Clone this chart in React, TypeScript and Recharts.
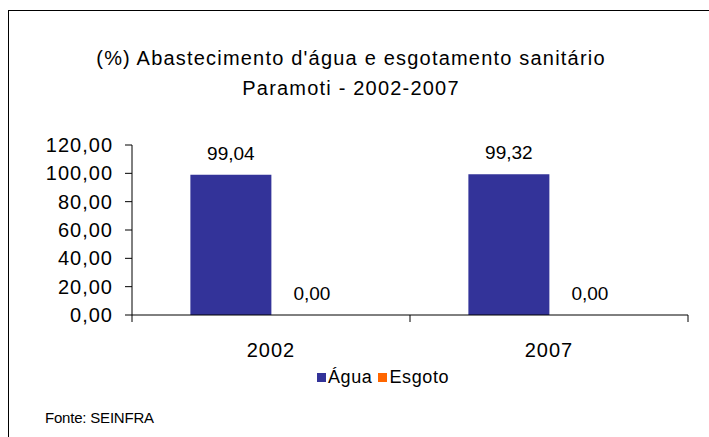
import React from 'react';
import { BarChart, Bar, XAxis, YAxis, LabelList } from 'recharts';

const categories = ['2002', '2007'];
const agua = [99.04, 99.32];
const esgoto = [0.0, 0.0];
const yTicks = [0, 20, 40, 60, 80, 100, 120];
const seriesNames = ['Água', 'Esgoto'];
const seriesColors = ['#333399', '#FF6600'];

const data = categories.map((ano, i) => ({ ano, agua: agua[i], esgoto: esgoto[i] }));

const W = 709;
const H = 437;
const xAxisHeight = 30;
const margin = { top: 145, right: 21, bottom: 122 - xAxisHeight, left: 0 };
const yAxisWidth = 132;
const fontFamily = '"Liberation Sans", Arial, sans-serif';

const fmt = (v: number) => v.toFixed(2).replace('.', ',');

const plotLeft = margin.left + yAxisWidth;
const plotRight = W - margin.right;
const band = (plotRight - plotLeft) / categories.length;

// Excel style: category ticks sit on the boundaries, not the centres
function CategoryTick(props: any) {
  const { x, y, payload, index } = props;
  const left = x - band / 2;
  const last = index === categories.length - 1;
  return (
    <g>
      <line x1={left} x2={left} y1={y - 8} y2={y - 1} stroke="#000" />
      {last && <line x1={x + band / 2} x2={x + band / 2} y1={y - 8} y2={y - 1} stroke="#000" />}
      <text x={x} y={y + 34} textAnchor="middle" fontSize={20} fill="#000" fontFamily={fontFamily} letterSpacing={1}>
        {payload.value}
      </text>
    </g>
  );
}

export default function App() {
  return (
    <div style={{ position: 'absolute', left: 0, top: 0, width: W, height: H, background: '#fff', overflow: 'hidden', fontFamily }}>
      <div style={{ position: 'absolute', left: 8, top: 10, width: W, height: H, borderTop: '1px solid #000', borderLeft: '1px solid #000' }} />
      <div style={{ position: 'absolute', left: 0, width: 702, top: 43, textAlign: 'center', fontSize: 20, lineHeight: '30px', color: '#000', letterSpacing: 1.2 }}>
        (%) Abastecimento d'água e esgotamento sanitário
        <br />
        Paramoti - 2002-2007
      </div>
      <div style={{ position: 'absolute', left: 45, top: 409, fontSize: 15, color: '#000', letterSpacing: -0.2 }}>Fonte: SEINFRA</div>
      <div style={{ position: 'absolute', left: 317, top: 366, display: 'flex', alignItems: 'center', fontSize: 18, lineHeight: '22px', color: '#000', letterSpacing: 0.6 }}>
        {seriesNames.map((n, i) => (
          <span key={n} style={{ display: 'flex', alignItems: 'center', marginRight: 6 }}>
            <span style={{ display: 'inline-block', width: 9, height: 9, background: seriesColors[i], marginRight: 2 }} />
            {n}
          </span>
        ))}
      </div>
      <div style={{ position: 'absolute', left: 0, top: 0 }}>
        <BarChart width={W} height={H} data={data} margin={margin} barCategoryGap="21%" barGap={0}>
          <YAxis
            width={yAxisWidth}
            domain={[0, 120]}
            ticks={yTicks}
            interval={0}
            tickFormatter={fmt}
            axisLine={{ stroke: '#000' }}
            tickLine={{ stroke: '#000' }}
            tickSize={7}
            tickMargin={12}
            tick={{ fill: '#000', fontSize: 20, fontFamily, letterSpacing: 1 }}
          />
          <XAxis
            dataKey="ano"
            height={xAxisHeight}
            axisLine={{ stroke: '#000' }}
            tickLine={false}
            tick={<CategoryTick />}
            interval={0}
          />
          <Bar dataKey="agua" name={seriesNames[0]} fill={seriesColors[0]} isAnimationActive={false}>
            <LabelList dataKey="agua" position="top" offset={15} formatter={(v: any) => fmt(Number(v))} fill="#000" fontSize={19} fontFamily={fontFamily} />
          </Bar>
          <Bar dataKey="esgoto" name={seriesNames[1]} fill={seriesColors[1]} minPointSize={0.05} isAnimationActive={false}>
            <LabelList dataKey="esgoto" position="top" offset={15} formatter={(v: any) => fmt(Number(v))} fill="#000" fontSize={19} fontFamily={fontFamily} />
          </Bar>
        </BarChart>
      </div>
    </div>
  );
}
